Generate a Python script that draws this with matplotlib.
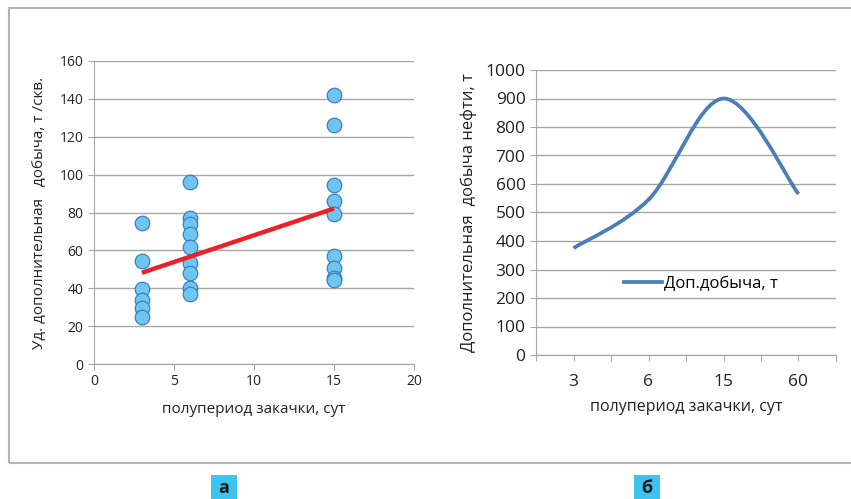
import matplotlib.pyplot as plt
from matplotlib.path import Path
from matplotlib.patches import PathPatch, Rectangle
from matplotlib.lines import Line2D

plt.rcParams['font.family'] = ['Open Sans', 'DejaVu Sans']

# left panel: specific extra production vs injection half-period
x3 = [3, 3, 3, 3, 3, 3]
y3 = [74.7, 54.6, 39.5, 33.7, 29.8, 24.6]
x6 = [6, 6, 6, 6, 6, 6, 6, 6, 6]
y6 = [96.1, 77.2, 73.7, 68.4, 61.9, 53.2, 48.2, 40.2, 37.2]
x15 = [15, 15, 15, 15, 15, 15, 15, 15, 15]
y15 = [142.3, 126.1, 94.4, 86.1, 79.1, 57.0, 50.7, 45.5, 44.2]
trend_x = [3, 15]
trend_y = [48.2, 82.1]

# right panel: total extra production
periods = ['3', '6', '15', '60']
extra = [375, 545, 900, 565]

grid_c = '#a6a6a6'
fig = plt.figure(figsize=(8.51, 4.99), dpi=100)

# outer frame
fig.add_artist(Rectangle((9 / 851, 1 - 463 / 499), 1, 455 / 499, transform=fig.transFigure,
                         fill=False, edgecolor='#b4b4b4', linewidth=1.5))

ax1 = fig.add_axes([94 / 851, 1 - 364 / 499, 320 / 851, 303 / 499])
xs = x3 + x6 + x15
ys = y3 + y6 + y15
ax1.scatter(xs, ys, s=110, facecolor='#6ec6f0', edgecolor='#3b7fc4', linewidth=0.9, zorder=3)
ax1.plot(trend_x, trend_y, color='#ea2228', linewidth=3.2, zorder=4, solid_capstyle='butt')
ax1.set_xlim(0, 20)
ax1.set_ylim(0, 160)
ax1.set_xticks([0, 5, 10, 15, 20])
ax1.set_yticks(range(0, 161, 20))
ax1.grid(axis='y', color=grid_c, linewidth=1)
ax1.set_axisbelow(True)
for s in ['top', 'right']:
    ax1.spines[s].set_visible(False)
for s in ['left', 'bottom']:
    ax1.spines[s].set_color(grid_c)
ax1.tick_params(colors=grid_c, labelcolor='#222222', labelsize=10, length=4)
ax1.set_xlabel('полупериод закачки, сут', fontsize=11, color='#222222', labelpad=9)
ax1.set_ylabel('Уд. дополнительная   добыча, т /скв.', fontsize=11, color='#222222', labelpad=9)

ax2 = fig.add_axes([536 / 851, 1 - 355 / 499, 300 / 851, 285 / 499])
pos = [i + 0.5 for i in range(len(extra))]
pts = list(zip(pos, extra))
# Excel-style smoothed line: cubic Bezier through the points
verts = [pts[0]]
codes = [Path.MOVETO]
for i in range(len(pts) - 1):
    p0 = pts[i - 1] if i > 0 else pts[i]
    p1 = pts[i]
    p2 = pts[i + 1]
    p3 = pts[i + 2] if i + 2 < len(pts) else pts[i + 1]
    c1 = (p1[0] + (p2[0] - p0[0]) / 6, p1[1] + (p2[1] - p0[1]) / 6)
    c2 = (p2[0] - (p3[0] - p1[0]) / 6, p2[1] - (p3[1] - p1[1]) / 6)
    verts += [c1, c2, p2]
    codes += [Path.CURVE4] * 3
ax2.add_patch(PathPatch(Path(verts, codes), fill=False, edgecolor='#4a7ebb', linewidth=2.7,
                        capstyle='butt', zorder=3))
ax2.set_xlim(0, len(extra))
ax2.set_ylim(0, 1000)
ax2.set_xticks(range(len(extra) + 1))
ax2.set_xticklabels([])
ax2.set_xticks(pos, minor=True)
ax2.set_xticklabels(periods, minor=True)
ax2.tick_params(axis='x', which='minor', length=0, pad=10)
ax2.set_yticks(range(0, 1001, 100))
ax2.grid(axis='y', color=grid_c, linewidth=1)
ax2.set_axisbelow(True)
for s in ['top', 'right']:
    ax2.spines[s].set_visible(False)
for s in ['left', 'bottom']:
    ax2.spines[s].set_color(grid_c)
ax2.tick_params(which='both', colors=grid_c, labelcolor='#222222', labelsize=12.5, length=4)
ax2.set_xlabel('полупериод закачки, сут', fontsize=11.5, color='#222222', labelpad=6)
ax2.set_ylabel('Дополнительная  добыча нефти, т', fontsize=12, color='#222222', labelpad=6)
ax2.legend([Line2D([], [], color='#4a7ebb', linewidth=2.7)], ['Доп.добыча, т'],
           loc='center', bbox_to_anchor=(0.55, 0.25), frameon=False, fontsize=12,
           handlelength=2.3, handletextpad=0.1)

# panel letters
for lx, letter in [(211, 'а'), (634, 'б')]:
    fig.add_artist(Rectangle((lx / 851, 0), 26 / 851, 24 / 499, transform=fig.transFigure,
                             facecolor='#3cc3f0', edgecolor='none'))
    fig.text((lx + 13) / 851, 11 / 499, letter, ha='center', va='center', fontsize=13,
             fontweight='bold', color='#1a1a1a')

fig.savefig('out.png', dpi=100)
